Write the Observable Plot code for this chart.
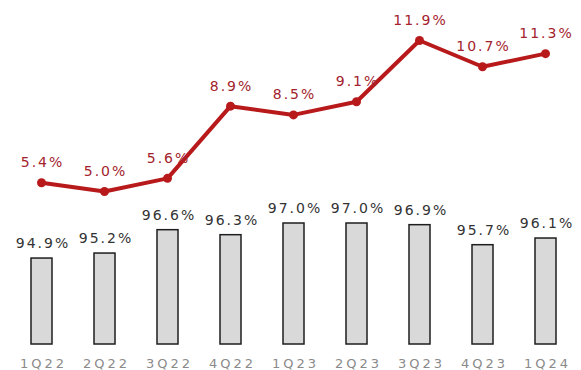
<!DOCTYPE html>
<html><head><meta charset="utf-8">
<script src="https://cdn.jsdelivr.net/npm/d3@7"></script>
<script src="https://cdn.jsdelivr.net/npm/@observablehq/plot@0.6"></script>
<style>
body{margin:0;background:#fff;}
#wrap{position:relative;width:581px;height:370px;}
#wrap svg{position:absolute;left:0;top:0;overflow:visible;}
.lbl text{letter-spacing:2px;}
.xax text{letter-spacing:3px;}
</style></head>
<body><div id="wrap"></div>
<script>
const quarters = ["1Q22","2Q22","3Q22","4Q22","1Q23","2Q23","3Q23","4Q23","1Q24"];
const barValues = [94.9, 95.2, 96.6, 96.3, 97.0, 97.0, 96.9, 95.7, 96.1];
const lineValues = [5.4, 5.0, 5.6, 8.9, 8.5, 9.1, 11.9, 10.7, 11.3];
const barBase = 89.75;

const bars = quarters.map((q,i)=>({q, v: barValues[i]}));
const pts = quarters.map((q,i)=>({q, v: lineValues[i]}));
const font = "DejaVu Sans, Verdana, sans-serif";

const p1 = Plot.plot({
  width: 581, height: 370,
  marginTop: 0, marginBottom: 26, marginLeft: 0, marginRight: 0,
  style: {fontFamily: font, background: "transparent"},
  x: {type: "band", domain: quarters, range: [27.5, 558.5], paddingInner: 0.67, paddingOuter: 0, label: null},
  y: {domain: [barBase, 97], range: [344, 223], axis: null},
  marks: [
    Plot.ruleY([barBase], {stroke: "#e3e3e3", strokeWidth: 1.5, x1: -100, x2: 700}),
    Plot.barY(bars, {x: "q", y1: barBase, y2: "v", fill: "#d9d9d9", stroke: "#1e1e1e", strokeWidth: 1.5}),
    Plot.text(bars, {x: "q", y: "v", text: d => d.v.toFixed(1) + "%", dy: -15, dx: 1, fill: "#333", fontSize: 14, className: "lbl"}),
    Plot.axisX({tickSize: 0, tickPadding: 14, fontSize: 13, dx: 1.5, color: "#8a8a8a", label: null, className: "xax"})
  ]
});

const p2 = Plot.plot({
  width: 581, height: 370, margin: 0,
  style: {fontFamily: font, background: "transparent"},
  x: {type: "point", domain: quarters, range: [38, 548], padding: 0, axis: null},
  y: {domain: [5.0, 11.9], range: [191, 40], axis: null},
  marks: [
    Plot.line(pts, {x: "q", y: "v", stroke: "#b81a1c", strokeWidth: 4, strokeLinejoin: "round"}),
    Plot.dot(pts, {x: "q", y: "v", r: 4.5, fill: "#b81a1c"}),
    Plot.text(pts, {x: "q", y: "v", text: d => d.v.toFixed(1) + "%", dy: -20, dx: 1, fill: "#a3232c", fontSize: 14, className: "lbl"})
  ]
});

const wrap = document.getElementById("wrap");
wrap.appendChild(p1);
wrap.appendChild(p2);
</script>
</body></html>
